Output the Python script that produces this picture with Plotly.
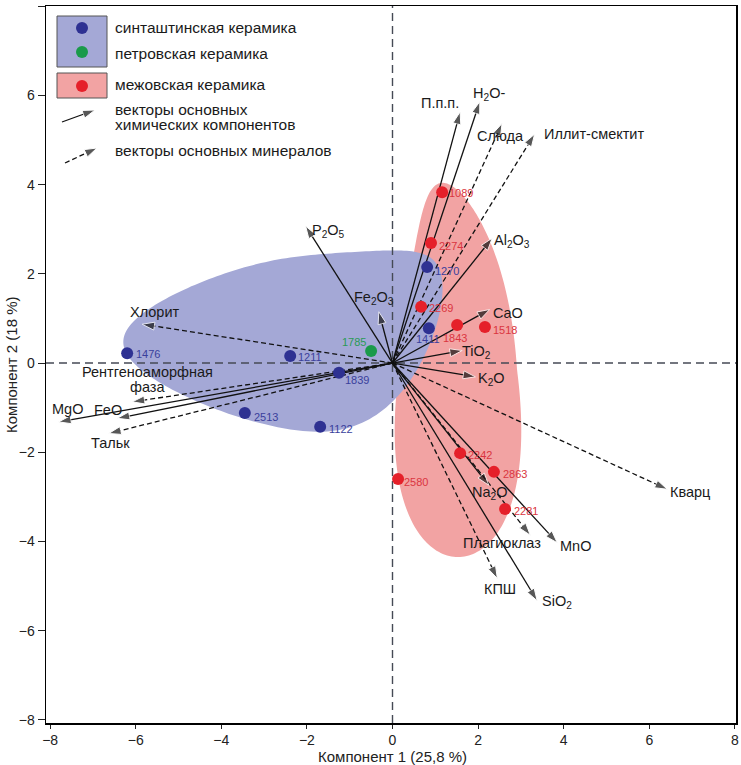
import numpy as np
import plotly.graph_objects as go

# ---------------- data ----------------
# sample scores (component 1, component 2)
sint_ids = ["1476", "1211", "1839", "2513", "1122", "1270", "1411"]
sint_x = [-6.20, -2.39, -1.25, -3.45, -1.69, 0.81, 0.85]
sint_y = [0.22, 0.16, -0.22, -1.12, -1.43, 2.15, 0.78]

petr_ids = ["1785"]
petr_x = [-0.50]
petr_y = [0.27]

mezh_ids = ["1089", "2274", "2269", "1843", "1518", "2242", "2863", "2281", "2580"]
mezh_x = [1.16, 0.90, 0.67, 1.51, 2.16, 1.58, 2.37, 2.63, 0.13]
mezh_y = [3.83, 2.69, 1.26, 0.85, 0.81, -2.02, -2.44, -3.27, -2.60]

# loading vectors: chemical components (solid)
chem_names = ["П.п.п.", "H<sub>2</sub>O-", "Al<sub>2</sub>O<sub>3</sub>", "CaO", "TiO<sub>2</sub>",
              "K<sub>2</sub>O", "Na<sub>2</sub>O", "MnO", "SiO<sub>2</sub>",
              "Fe<sub>2</sub>O<sub>3</sub>", "P<sub>2</sub>O<sub>5</sub>", "MgO", "FeO"]
chem_x = [1.58, 2.04, 2.33, 2.27, 1.63, 1.94, 2.25, 3.85, 3.38, -0.32, -2.03, -7.80, -6.43]
chem_y = [5.63, 5.86, 2.80, 1.20, 0.28, -0.31, -2.74, -4.03, -5.33, 1.15, 3.07, -1.32, -1.24]

# loading vectors: minerals (dashed)
min_names = ["Слюда", "Иллит-смектит", "Кварц", "Плагиоклаз", "КПШ", "Хлорит",
             "Рентгеноаморфная фаза", "Тальк"]
min_x = [2.56, 3.32, 6.42, 3.22, 2.45, -5.85, -6.08, -6.63]
min_y = [5.37, 5.13, -2.83, -3.86, -4.83, 0.87, -0.87, -1.58]

x_ticks = [-8, -6, -4, -2, 0, 2, 4, 6, 8]
y_ticks = [-8, -6, -4, -2, 0, 2, 4, 6, 8]

x_title = "Компонент 1 (25,8 %)"
y_title = "Компонент 2 (18 %)"

# ---------------- layout helpers (positions / styles) ----------------
FONT = "Liberation Sans, Arial, sans-serif"
C_BLUE_FILL = "#A4A8D6"
C_RED_FILL = "#F2A3A3"
C_BLUE = "#2E3192"
C_RED = "#E5202A"
C_GREEN = "#1A9A4A"
C_BLUE_LBL = "#3A3F9C"
C_RED_LBL = "#DA3540"
C_GREEN_LBL = "#2A9A55"
XR = [-8.096, 8.026]
YR = [-8.07, 8.004]
ARROW = 13

FIG_W, FIG_H = 741, 765
PLOT_L, PLOT_R, PLOT_T, PLOT_B = 46, 736, 6, 723   # plot area in pixels


def px_x(p):
    return XR[0] + (p - PLOT_L) * (XR[1] - XR[0]) / (PLOT_R - PLOT_L)


def px_y(p):
    return YR[1] - (p - PLOT_T) * (YR[1] - YR[0]) / (PLOT_B - PLOT_T)


def paper_x(p):
    return (p - PLOT_L) / (PLOT_R - PLOT_L)


def paper_y(p):
    return (PLOT_B - p) / (PLOT_B - PLOT_T)


# label placement for vectors (x, y, xanchor)
chem_label_pos = [(1.10, 5.83, "center"), (2.26, 6.03, "center"), (2.80, 2.74, "center"),
                  (2.70, 1.12, "center"), (1.97, 0.25, "center"), (2.31, -0.36, "center"),
                  (2.27, -2.91, "center"), (4.28, -4.10, "center"), (3.84, -5.36, "center"),
                  (-0.44, 1.46, "center"), (-1.50, 2.96, "center"), (-7.59, -1.03, "center"),
                  (-6.64, -1.05, "center")]
min_label_pos = [(2.52, 5.09, "center"), (3.50, 5.13, "left"), (6.96, -2.89, "center"),
                 (2.57, -4.04, "center"), (2.52, -5.07, "center"), (-5.56, 1.14, "center"),
                 (-5.72, -0.20, "center"), (-6.59, -1.79, "center")]
label_lines = {"Рентгеноаморфная фаза": ["Рентгеноаморфная", "фаза"]}

# point label offsets (xshift, yshift, xanchor)
sint_lbl = [(7, -1, "left"), (6, -1, "left"), (4, -7, "left"), (7, -4, "left"),
            (7, -2, "left"), (6, -4, "left"), (-1, -11, "center")]
petr_lbl = [(-3, 9, "right")]
mezh_lbl = [(5, -1, "left"), (6, -3, "left"), (6, -1, "left"), (-2, -13, "center"),
            (6, -3, "left"), (6, -2, "left"), (7, -2, "left"), (7, -2, "left"), (4, -3, "left")]


def path_from(xs, ys):
    pts = ["%.4f,%.4f" % (a, b) for a, b in zip(xs, ys)]
    return "M" + " L".join(pts) + " Z"


def blue_outline(n=240):
    t = np.linspace(0, 2 * np.pi, n)
    s = np.cos(t)
    x = -2.56 + 3.73 * s
    mid = 0.44 - 0.03 * s + 1.27 * np.clip(s, 0, None) ** 3
    y = mid + 1.9 * np.sin(t) * (1 + 0.33 * s)
    return x, y


def red_outline(n=240):
    t = np.linspace(0, 2 * np.pi, n)
    s = np.cos(t)
    k = np.where(s > 0, 0.41, 0.20)
    y = -0.155 - 4.195 * s
    mid = 1.53 - 0.36 * np.clip(-s, 0, None) ** 3
    x = mid + 1.38 * np.sin(t) * (1 + k * s)
    return x, y


fig = go.Figure()
shapes = []
annotations = []

rx, ry = red_outline()
bx, by = blue_outline()
shapes.append(dict(type="path", path=path_from(rx, ry), fillcolor=C_RED_FILL,
                   line=dict(width=0), layer="below"))
shapes.append(dict(type="path", path=path_from(bx, by), fillcolor=C_BLUE_FILL,
                   line=dict(width=0), layer="below"))
# zero lines
shapes.append(dict(type="line", x0=XR[0], x1=XR[1], y0=0, y1=0, layer="below",
                   line=dict(color="#454a55", width=1.4, dash="8px,5px")))
shapes.append(dict(type="line", x0=0, x1=0, y0=YR[0], y1=YR[1], layer="below",
                   line=dict(color="#454a55", width=1.4, dash="8px,5px")))


def add_vector(vx, vy, dash):
    fig.add_trace(go.Scatter(
        x=[0, vx], y=[0, vy], mode="lines+markers", hoverinfo="skip",
        line=dict(color="#111111", width=1.3, dash=dash),
        marker=dict(symbol="arrow", size=[0, ARROW], angleref="previous", color="#111111"),
    ))


for vx, vy in zip(min_x, min_y):
    add_vector(vx, vy, "5px,3px")
for vx, vy in zip(chem_x, chem_y):
    add_vector(vx, vy, "solid")


def add_vec_labels(names, poss):
    for name, (lx, ly, anc) in zip(names, poss):
        lines = label_lines.get(name, [name])
        for i, txt in enumerate(lines):
            annotations.append(dict(x=lx, y=ly - i * 15 / 44.6, text=txt, showarrow=False,
                                    xanchor=anc, yanchor="middle",
                                    font=dict(family=FONT, size=14.5, color="#1a1a1a")))


add_vec_labels(chem_names, chem_label_pos)
add_vec_labels(min_names, min_label_pos)


def add_points(ids, xs, ys, color, lcolor, offs):
    fig.add_trace(go.Scatter(x=xs, y=ys, mode="markers", hoverinfo="skip",
                             marker=dict(size=12, color=color, line=dict(width=0))))
    for pid, px_, py_, (dx, dy, anc) in zip(ids, xs, ys, offs):
        annotations.append(dict(x=px_, y=py_, text=pid, showarrow=False, xanchor=anc,
                                yanchor="middle", xshift=dx, yshift=dy,
                                font=dict(family=FONT, size=11, color=lcolor)))


add_points(sint_ids, sint_x, sint_y, C_BLUE, C_BLUE_LBL, sint_lbl)
add_points(petr_ids, petr_x, petr_y, C_GREEN, C_GREEN_LBL, petr_lbl)
add_points(mezh_ids, mezh_x, mezh_y, C_RED, C_RED_LBL, mezh_lbl)

# ---------------- legend (drawn manually) ----------------
shapes.append(dict(type="rect", x0=px_x(57), x1=px_x(107), y0=px_y(67), y1=px_y(16),
                   fillcolor=C_BLUE_FILL, line=dict(color="#555", width=1), layer="below"))
shapes.append(dict(type="rect", x0=px_x(57), x1=px_x(107), y0=px_y(98), y1=px_y(73),
                   fillcolor=C_RED_FILL, line=dict(color="#555", width=1), layer="below"))
fig.add_trace(go.Scatter(x=[px_x(82), px_x(82), px_x(82)], y=[px_y(28), px_y(52), px_y(86)],
                         mode="markers", hoverinfo="skip",
                         marker=dict(size=12, color=[C_BLUE, C_GREEN, C_RED])))
fig.add_trace(go.Scatter(x=[px_x(62), px_x(95)], y=[px_y(122), px_y(110)], mode="lines+markers",
                         hoverinfo="skip", line=dict(color="#111111", width=1.3),
                         marker=dict(symbol="arrow", size=[0, ARROW], angleref="previous",
                                     color="#111111")))
fig.add_trace(go.Scatter(x=[px_x(65), px_x(97)], y=[px_y(163), px_y(148)], mode="lines+markers",
                         hoverinfo="skip", line=dict(color="#111111", width=1.3, dash="5px,3px"),
                         marker=dict(symbol="arrow", size=[0, ARROW], angleref="previous",
                                     color="#111111")))
legend_texts = [("синташтинская керамика", 27), ("петровская керамика", 53),
                ("межовская керамика", 84), ("векторы основных", 109),
                ("химических компонентов", 124), ("векторы основных минералов", 150)]
for txt, ypx in legend_texts:
    annotations.append(dict(x=px_x(113), y=px_y(ypx), text=txt, showarrow=False,
                            xanchor="left", yanchor="middle",
                            font=dict(family=FONT, size=15.5, color="#1a1a1a")))

# axis titles (placed as paper annotations)
annotations.append(dict(xref="paper", yref="paper", x=paper_x(392), y=paper_y(756),
                        text=x_title, showarrow=False, xanchor="center", yanchor="middle",
                        font=dict(family=FONT, size=15, color="#222")))
annotations.append(dict(xref="paper", yref="paper", x=paper_x(12), y=paper_y(365),
                        text=y_title, showarrow=False, xanchor="center", yanchor="middle",
                        textangle=-90, font=dict(family=FONT, size=15, color="#222")))

fig.update_layout(
    width=FIG_W, height=FIG_H,
    margin=dict(l=PLOT_L, r=FIG_W - PLOT_R, t=PLOT_T, b=FIG_H - PLOT_B, autoexpand=False),
    plot_bgcolor="white", paper_bgcolor="white",
    showlegend=False,
    font=dict(family=FONT, color="#222"),
    shapes=shapes, annotations=annotations,
)
fig.update_xaxes(range=XR, tickvals=x_ticks, ticks="outside", ticklen=4, tickcolor="#222",
                 showline=True, linecolor="black", linewidth=1.5, mirror=True,
                 showgrid=False, zeroline=False, automargin=False,
                 tickfont=dict(size=14, color="#222"))
fig.update_yaxes(range=YR, tickvals=y_ticks, ticks="outside", ticklen=7, tickcolor="#222",
                 showline=True, linecolor="black", linewidth=1.5, mirror=True,
                 showgrid=False, zeroline=False, automargin=False,
                 tickfont=dict(size=14, color="#222"))

# place the figure at the window's top-left corner without page margins / scrollbars
fig.write_html("out.html",
               config={"displayModeBar": False, "staticPlot": True},
               post_script="document.body.style.margin='0';"
                           "document.body.style.overflow='hidden';")
